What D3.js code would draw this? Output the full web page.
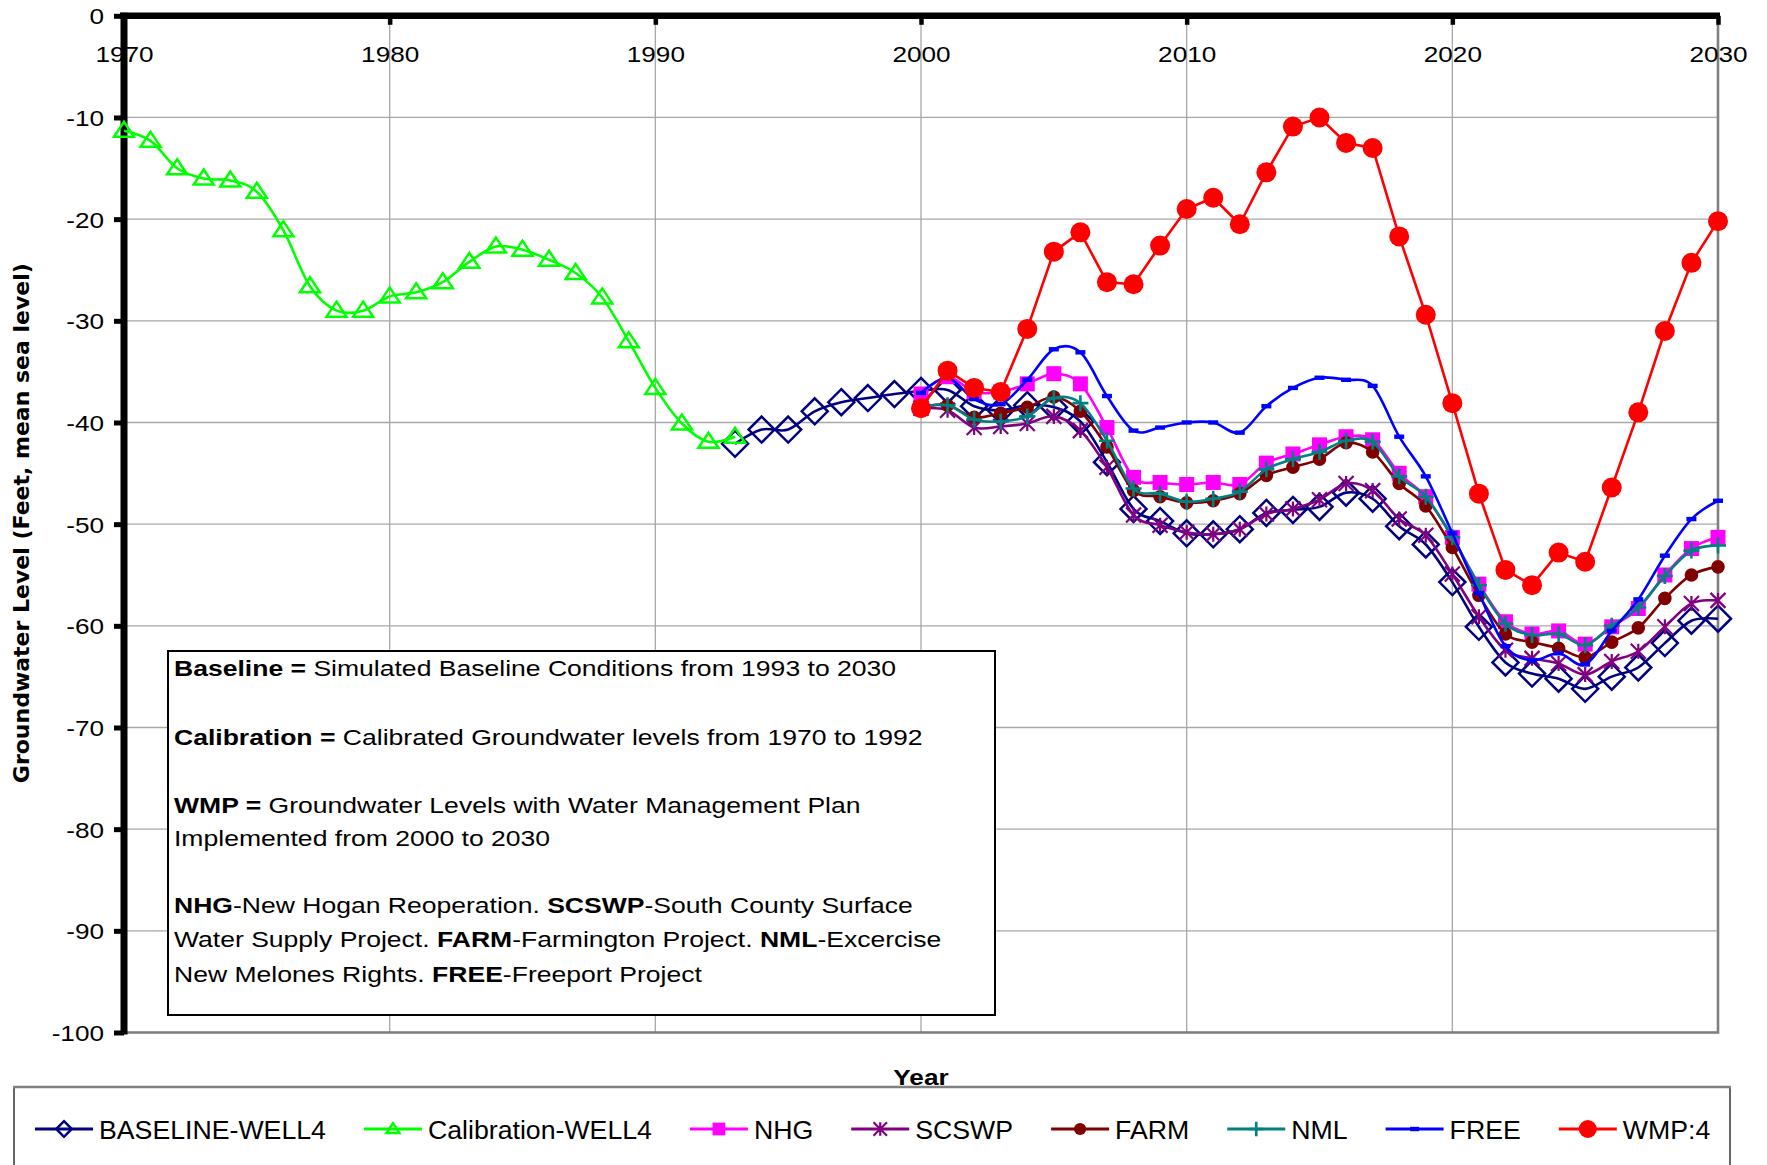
<!DOCTYPE html>
<html>
<head>
<meta charset="utf-8">
<script src="https://cdn.jsdelivr.net/npm/d3@7"></script>
<style>
  body { margin: 0; background: #fff; }
  svg { display: block; }
</style>
</head>
<body>
<svg id="chart" width="1767" height="1165"></svg>
<script>
// ---- Data -------------------------------------------------------------
const calibrationYears = d3.range(1970, 1994);
const calibration = [-11.3, -12.3, -15.0, -16.0, -16.2, -17.3, -21.1, -26.6, -29.0, -29.0,
  -27.6, -27.2, -26.2, -24.2, -22.7, -23.0, -24.0, -25.3, -27.7, -32.0, -36.6, -40.1, -41.9, -41.4];

const baselineYears = d3.range(1993, 2031);
const baseline = [-42.1, -40.7, -40.7, -38.9, -38.0, -37.6, -37.2,
  -36.9, -36.8, -38.4, -38.8, -38.3, -38.5, -39.9, -43.9, -48.5, -49.7,
  -50.9, -51.0, -50.5, -48.9, -48.6, -48.3, -46.9, -47.5, -50.2, -52.0,
  -55.7, -60.1, -63.6, -64.7, -65.2, -66.2, -65.0, -64.1, -61.7, -59.5, -59.3];

const planYears = d3.range(2000, 2031);
const nhg = [-37.2, -35.5, -37.0, -37.0, -36.2, -35.2, -36.2, -40.5, -45.4, -45.9,
  -46.1, -45.9, -46.1, -44.0, -43.1, -42.2, -41.4, -41.7, -45.0, -47.3,
  -51.3, -55.9, -59.6, -60.8, -60.5, -61.8, -60.1, -58.3, -55.0, -52.4, -51.3];
const scswp = [-38.6, -38.8, -40.5, -40.4, -40.1, -39.4, -40.8, -44.4, -49.1, -50.1,
  -50.8, -51.0, -50.5, -49.0, -48.5, -47.6, -46.0, -46.7, -49.5, -51.1,
  -54.9, -59.1, -62.4, -63.2, -63.7, -64.8, -63.5, -62.5, -60.1, -57.8, -57.5];
const farm = [-38.5, -38.3, -39.5, -39.1, -38.5, -37.5, -38.9, -42.4, -46.7, -47.3,
  -47.9, -47.7, -47.0, -45.2, -44.4, -43.6, -42.0, -42.9, -46.0, -48.2,
  -52.3, -57.0, -60.8, -61.6, -62.2, -63.1, -61.6, -60.2, -57.3, -55.0, -54.2];
const nml = [-38.5, -38.3, -39.7, -39.9, -39.4, -37.6, -38.1, -41.8, -46.5, -47.0,
  -47.8, -47.5, -46.8, -44.6, -43.6, -42.9, -41.8, -41.9, -45.3, -47.3,
  -51.3, -56.0, -59.8, -60.9, -60.8, -61.9, -60.0, -58.2, -55.1, -52.6, -52.1];
const free = [-37.1, -35.6, -37.7, -38.2, -35.8, -32.8, -33.1, -37.4, -40.8, -40.5,
  -40.0, -40.0, -41.0, -38.4, -36.6, -35.6, -35.8, -36.4, -41.4, -45.3,
  -50.9, -56.8, -62.0, -63.4, -62.7, -63.8, -60.5, -57.4, -53.1, -49.5, -47.7];
const wmp = [-38.6, -34.9, -36.6, -37.0, -30.8, -23.2, -21.3, -26.2, -26.4, -22.6,
  -19.0, -17.9, -20.5, -15.4, -10.9, -10.0, -12.5, -13.0, -21.7, -29.4,
  -38.1, -47.0, -54.5, -56.0, -52.8, -53.7, -46.4, -39.0, -31.0, -24.3, -20.2];

const seriesNames = ["BASELINE-WELL4", "Calibration-WELL4", "NHG", "SCSWP", "FARM", "NML", "FREE", "WMP:4"];
const xTickValues = [1970, 1980, 1990, 2000, 2010, 2020, 2030];
const yTickValues = [0, -10, -20, -30, -40, -50, -60, -70, -80, -90, -100];

const noteLines = [
  [["Baseline = ", true], ["Simulated Baseline Conditions from 1993 to 2030", false]],
  [["Calibration = ", true], ["Calibrated Groundwater levels from 1970 to 1992", false]],
  [["WMP = ", true], ["Groundwater Levels with Water Management Plan", false]],
  [["Implemented from 2000 to 2030", false]],
  [["NHG", true], ["-New Hogan Reoperation. ", false], ["SCSWP", true], ["-South County Surface", false]],
  [["Water Supply Project. ", false], ["FARM", true], ["-Farmington Project. ", false], ["NML", true], ["-Excercise", false]],
  [["New Melones Rights. ", false], ["FREE", true], ["-Freeport Project", false]]
];

// ---- Series styling ----------------------------------------------------
const zip = (years, vals) => years.map((yr, i) => ({ year: yr, v: vals[i] }));
const series = [
  { name: seriesNames[0], pts: zip(baselineYears, baseline), color: "#000080", marker: "diamond", smooth: true },
  { name: seriesNames[1], pts: zip(calibrationYears, calibration), color: "#00ff00", marker: "triangle", smooth: true },
  { name: seriesNames[2], pts: zip(planYears, nhg), color: "#ff00ff", marker: "square", smooth: true },
  { name: seriesNames[3], pts: zip(planYears, scswp), color: "#800080", marker: "star", smooth: true },
  { name: seriesNames[4], pts: zip(planYears, farm), color: "#800000", marker: "dot", smooth: true },
  { name: seriesNames[5], pts: zip(planYears, nml), color: "#008080", marker: "plus", smooth: true },
  { name: seriesNames[6], pts: zip(planYears, free), color: "#0000ff", marker: "dash", smooth: true },
  { name: seriesNames[7], pts: zip(planYears, wmp), color: "#ff0000", marker: "bigdot", smooth: false }
];

// marker shapes; k scales the shape (legend uses smaller versions of some)
function markerShape(sel, type, color, k = 1) {
  const p = sel.append("path");
  switch (type) {
    case "diamond": {
      const h = 13 * k;
      p.attr("d", `M0,${-h}L${h},0L0,${h}L${-h},0Z`)
        .attr("fill", "none").attr("stroke", color).attr("stroke-width", 2.5);
      break;
    }
    case "triangle": {
      const w = 10 * k, t = 9 * k, b = 6 * k;
      p.attr("d", `M0,${-t}L${w},${b}L${-w},${b}Z`)
        .attr("fill", "none").attr("stroke", color).attr("stroke-width", 2.5);
      break;
    }
    case "square": {
      const h = 7.5 * k;
      p.attr("d", `M${-h},${-h}H${h}V${h}H${-h}Z`).attr("fill", color);
      break;
    }
    case "star": {
      const h = 7.5 * k;
      p.attr("d", `M0,${-h}V${h}M${-h},${-h}L${h},${h}M${-h},${h}L${h},${-h}`)
        .attr("fill", "none").attr("stroke", color).attr("stroke-width", 2.2);
      break;
    }
    case "plus": {
      const h = 8 * k;
      p.attr("d", `M${-h},0H${h}M0,${-h}V${h}`)
        .attr("fill", "none").attr("stroke", color).attr("stroke-width", 2.6);
      break;
    }
    case "dot":
      p.attr("d", d3.symbol(d3.symbolCircle, Math.PI * Math.pow(6.8 * k, 2))()).attr("fill", color);
      break;
    case "bigdot":
      p.attr("d", d3.symbol(d3.symbolCircle, Math.PI * Math.pow(10 * k, 2))()).attr("fill", color);
      break;
    case "dash":
      p.attr("d", `M${-5 * k},-2.2H${5 * k}V2.2H${-5 * k}Z`).attr("fill", color);
      break;
  }
}

// ---- Layout ------------------------------------------------------------
const svg = d3.select("#chart");
const plot = { left: 124, right: 1718, top: 15.8, bottom: 1032.5 };
const x = d3.scaleLinear().domain([1970, 2030]).range([plot.left, plot.right]);
const y = d3.scaleLinear().domain([-100, 0]).range([plot.bottom, plot.top]);

// labels use a slightly widened sans face
const textFont = "'Liberation Sans', Arial, sans-serif";
const textSize = 22.5;
const widen = 1.163;
const noteWiden = 1.18;
const titleFont = "'DejaVu Sans', sans-serif";

// gridlines
const grid = svg.append("g").attr("stroke", "#a8a8a8").attr("stroke-width", 1.3);
grid.selectAll("line.h").data(yTickValues.filter(t => t !== 0 && t !== -100)).join("line")
  .attr("x1", plot.left).attr("x2", plot.right).attr("y1", d => y(d)).attr("y2", d => y(d));
grid.selectAll("line.v").data(xTickValues.filter(t => t !== 1970 && t !== 2030)).join("line")
  .attr("x1", d => x(d)).attr("x2", d => x(d)).attr("y1", plot.top).attr("y2", plot.bottom);

// plot-area frame
svg.append("rect")
  .attr("x", plot.left).attr("y", plot.top)
  .attr("width", plot.right - plot.left).attr("height", plot.bottom - plot.top)
  .attr("fill", "none").attr("stroke", "#808080").attr("stroke-width", 2.6);

// x axis along the zero line, labels below it
const xAxisG = svg.append("g").attr("transform", `translate(0,${y(0)})`)
  .call(d3.axisBottom(x).tickValues(xTickValues).tickFormat(d => String(d))
    .tickSize(9).tickPadding(21).tickSizeOuter(0));
xAxisG.select(".domain").attr("stroke", "#000").attr("stroke-width", 6.5)
  .attr("d", `M${plot.left - 4},0H${plot.right + 2}`);
xAxisG.selectAll(".tick line").attr("stroke-width", 4.5);
xAxisG.selectAll(".tick text")
  .attr("font-family", textFont).attr("font-size", textSize).attr("fill", "#000")
  .attr("x", 0).attr("y", 0).attr("dy", null)
  .attr("transform", `translate(0,46) scale(${widen},1)`);

// y axis (plain hyphen for negative values)
const yAxisG = svg.append("g").attr("transform", `translate(${plot.left},0)`)
  .call(d3.axisLeft(y).tickValues(yTickValues).tickFormat(d => String(d))
    .tickSize(10).tickPadding(10).tickSizeOuter(0));
yAxisG.select(".domain").attr("stroke", "#000").attr("stroke-width", 7)
  .attr("d", `M0,${plot.top - 3}V${plot.bottom + 2}`);
yAxisG.selectAll(".tick line").attr("stroke-width", 5);
yAxisG.selectAll(".tick text")
  .attr("font-family", textFont).attr("font-size", textSize).attr("fill", "#000")
  .attr("x", 0).attr("dy", "0.35em")
  .attr("transform", `translate(-20,0) scale(${widen},1)`);

// axis titles
svg.append("text")
  .attr("transform", `translate(29,${(plot.top + plot.bottom) / 2 - 1}) rotate(-90)`)
  .attr("text-anchor", "middle")
  .attr("font-family", titleFont).attr("font-weight", "bold").attr("font-size", 22)
  .text("Groundwater Level (Feet, mean sea level)");
svg.append("text")
  .attr("transform", `translate(${(plot.left + plot.right) / 2},1085) scale(${widen},1)`)
  .attr("text-anchor", "middle")
  .attr("font-family", textFont).attr("font-weight", "bold").attr("font-size", textSize)
  .text("Year");

// ---- Note box ----------------------------------------------------------
const note = svg.append("g");
note.append("rect").attr("x", 168).attr("y", 651).attr("width", 827).attr("height", 364)
  .attr("fill", "#fff").attr("stroke", "#000").attr("stroke-width", 2);
const noteBaselines = [676, 745, 813, 846, 913, 947, 982];
noteLines.forEach((segs, i) => {
  const t = note.append("text")
    .attr("transform", `translate(174,${noteBaselines[i]}) scale(${noteWiden},1)`)
    .attr("font-family", textFont).attr("font-size", textSize).attr("fill", "#000")
    .attr("xml:space", "preserve");
  segs.forEach(([s, b]) => t.append("tspan").attr("font-weight", b ? "bold" : "normal").text(s));
});

// ---- Series ------------------------------------------------------------
const seriesG = svg.append("g");
series.forEach(s => {
  const line = d3.line().x(d => x(d.year)).y(d => y(d.v))
    .curve(s.smooth ? d3.curveCatmullRom.alpha(0) : d3.curveLinear);
  const g = seriesG.append("g");
  g.append("path").datum(s.pts).attr("d", line)
    .attr("fill", "none").attr("stroke", s.color).attr("stroke-width", 2.6)
    .attr("stroke-linejoin", "round");
  g.selectAll("g.m").data(s.pts).join("g")
    .attr("transform", d => `translate(${x(d.year)},${y(d.v)})`)
    .each(function () { markerShape(d3.select(this), s.marker, s.color); });
});

// ---- Legend ------------------------------------------------------------
const legend = svg.append("g");
legend.append("rect").attr("x", 14).attr("y", 1087).attr("width", 1716).attr("height", 110)
  .attr("fill", "#fff").attr("stroke", "#000").attr("stroke-width", 1.2);
legend.append("line").attr("x1", 13).attr("x2", 1731).attr("y1", 1087).attr("y2", 1087)
  .attr("stroke", "#808080").attr("stroke-width", 2.5);
let lx = 35;
const ly = 1129;
const legendScale = { diamond: 0.6, triangle: 0.65, square: 0.85, star: 0.9, plus: 0.9, dot: 0.9, dash: 0.9, bigdot: 0.9 };
series.forEach(s => {
  const item = legend.append("g").attr("transform", `translate(${lx},${ly})`);
  item.append("line").attr("x1", 0).attr("x2", 58).attr("y1", 0).attr("y2", 0)
    .attr("stroke", s.color).attr("stroke-width", 2.8);
  markerShape(item.append("g").attr("transform", "translate(29,0)"), s.marker, s.color, legendScale[s.marker]);
  const txt = item.append("text").attr("x", 64).attr("y", 9.8)
    .attr("font-family", textFont).attr("font-size", 26.7).attr("fill", "#000").text(s.name);
  lx += 64 + txt.node().getComputedTextLength() + 38;
});
</script>
</body>
</html>
